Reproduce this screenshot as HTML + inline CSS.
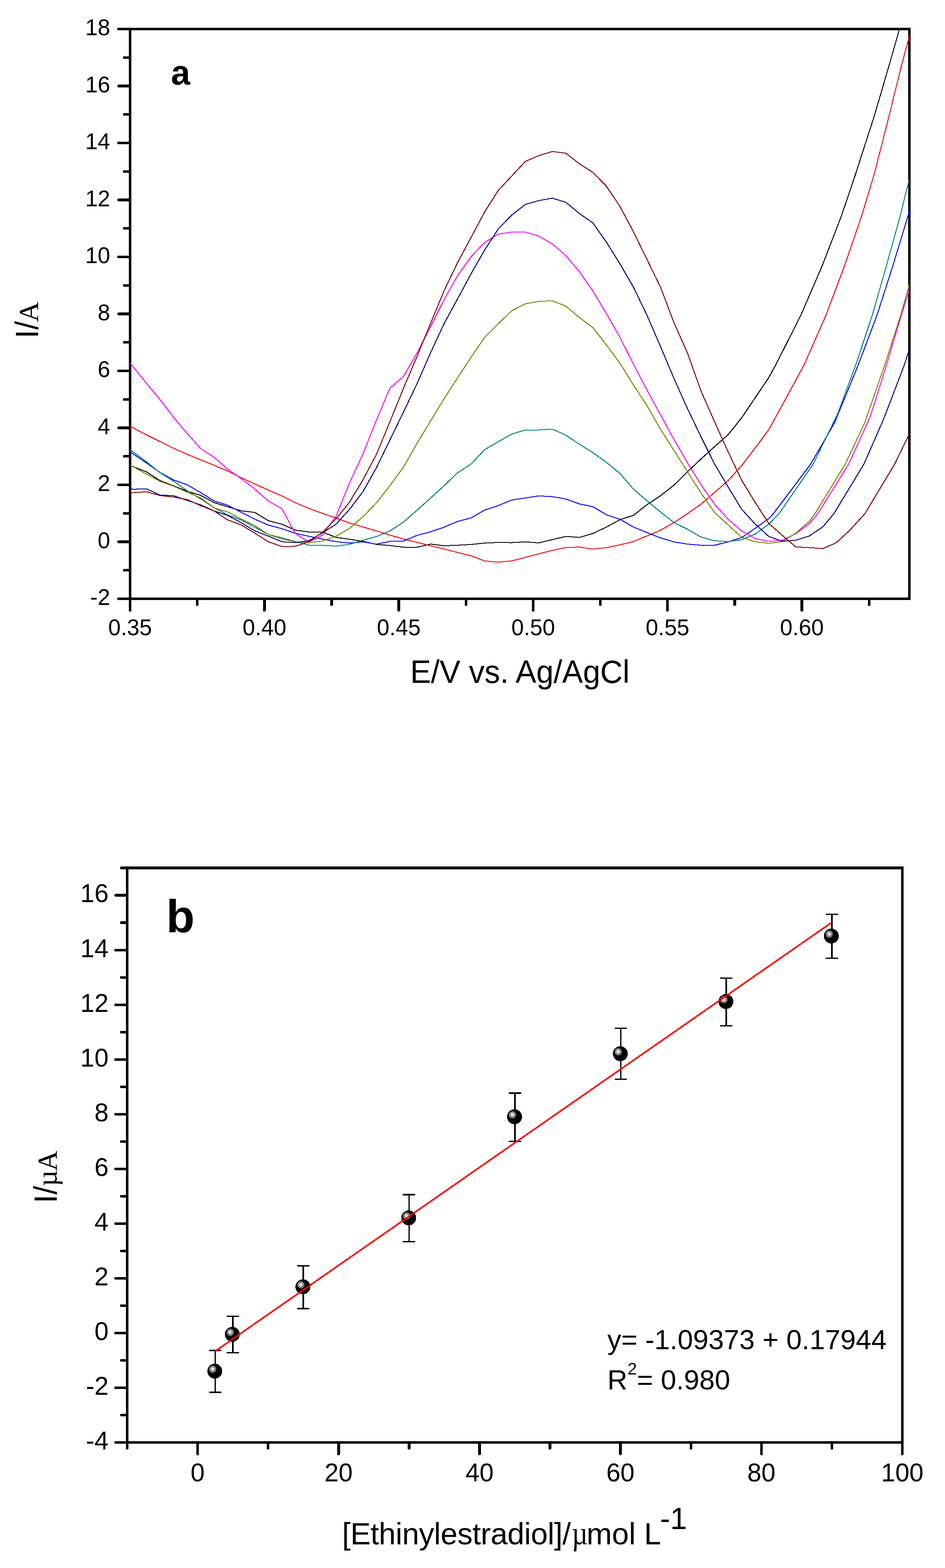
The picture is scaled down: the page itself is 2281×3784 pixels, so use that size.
<!DOCTYPE html>
<html lang="en"><head><meta charset="utf-8"><title>Figure</title>
<style>html,body{margin:0;padding:0;background:#fff}svg{display:block}text{font-family:"Liberation Sans",sans-serif;fill:#000}.t{font-size:54.2px}.tb{font-size:61.3px}.ti{font-size:75px}.s{font-family:"Liberation Serif",serif}.ax{stroke:#000;stroke-width:6.4;fill:none;stroke-linecap:round}.c{fill:none;stroke-width:1;stroke-linejoin:round}</style></head><body>
<svg width="2281" height="3784" viewBox="0 0 2281 3784">
<rect width="2281" height="3784" fill="#fff"/>
<g class="ax" shape-rendering="crispEdges">
<rect x="314" y="70" width="1881" height="1375"/>
<path d="M311,1445h-24.8M311,1376.2h-11.2M311,1307.5h-24.8M311,1238.8h-11.2M311,1170h-24.8M311,1101.2h-11.2M311,1032.5h-24.8M311,963.8h-11.2M311,895h-24.8M311,826.2h-11.2M311,757.5h-24.8M311,688.8h-11.2M311,620h-24.8M311,551.2h-11.2M311,482.5h-24.8M311,413.8h-11.2M311,345h-24.8M311,276.2h-11.2M311,207.5h-24.8M311,138.8h-11.2M311,70h-24.8M314,1448v24.8M476.2,1448v11.2M638.3,1448v24.8M800.5,1448v11.2M962.6,1448v24.8M1124.8,1448v11.2M1286.9,1448v24.8M1449.1,1448v11.2M1611.2,1448v24.8M1773.4,1448v11.2M1935.6,1448v24.8M2097.7,1448v11.2"/>
</g>
<clipPath id="ca"><rect x="314" y="73" width="1881.3" height="1369"/></clipPath>
<g clip-path="url(#ca)" shape-rendering="crispEdges">
<g stroke="#000"><polyline class="c" points="308.5,1120.8 353.4,1138.4 386,1159.4 418.7,1172.1 451.3,1184.8 484,1195 516.6,1212.5 549.2,1222.5 581.9,1232.2 614.5,1236.2 647.2,1256.1 679.8,1264.5 712.4,1278.8 745.1,1283.4 777.7,1283.4 810.4,1296.3 843,1300.9 875.6,1305.8 908.3,1313.3 940.9,1316 973.6,1320 1006.2,1320 1038.8,1312.5 1071.5,1316.6 1104.1,1315.3 1136.8,1313.4 1169.4,1310.1 1202,1308.5 1234.7,1309.1 1267.3,1307.2 1300,1309.6 1332.6,1301.8 1365.2,1294 1397.9,1296.4 1430.5,1287 1463.2,1271.4 1495.8,1253.8 1528.4,1243.1 1561.1,1217.5 1593.7,1195.9 1626.4,1170.3 1659,1138 1691.6,1107 1724.3,1077.4 1756.9,1048.7 1789.6,1007.9 1822.2,959.6 1854.8,911.3 1872.3,879.5 1932.9,759.5 1984.6,639.5 2030.9,519.5 2064.7,419.5 2109.8,279.5 2144.9,159.5 2169.9,72.2 2178.5,39.5"/>
<polyline class="c" transform="translate(1,0)" points="308.5,1120.8 353.4,1138.4 386,1159.4 418.7,1172.1 451.3,1184.8 484,1195 516.6,1212.5 549.2,1222.5 581.9,1232.2 614.5,1236.2 647.2,1256.1 679.8,1264.5 712.4,1278.8 745.1,1283.4 777.7,1283.4 810.4,1296.3 843,1300.9 875.6,1305.8 908.3,1313.3 940.9,1316 973.6,1320 1006.2,1320 1038.8,1312.5 1071.5,1316.6 1104.1,1315.3 1136.8,1313.4 1169.4,1310.1 1202,1308.5 1234.7,1309.1 1267.3,1307.2 1300,1309.6 1332.6,1301.8 1365.2,1294 1397.9,1296.4 1430.5,1287 1463.2,1271.4 1495.8,1253.8 1528.4,1243.1 1561.1,1217.5 1593.7,1195.9 1626.4,1170.3 1659,1138 1691.6,1107 1724.3,1077.4 1756.9,1048.7 1789.6,1007.9 1822.2,959.6 1854.8,911.3 1872.3,879.5 1932.9,759.5 1984.6,639.5 2030.9,519.5 2064.7,419.5 2109.8,279.5 2144.9,159.5 2169.9,72.2 2178.5,39.5"/>
<polyline class="c" transform="translate(0,1)" points="308.5,1120.8 353.4,1138.4 386,1159.4 418.7,1172.1 451.3,1184.8 484,1195 516.6,1212.5 549.2,1222.5 581.9,1232.2 614.5,1236.2 647.2,1256.1 679.8,1264.5 712.4,1278.8 745.1,1283.4 777.7,1283.4 810.4,1296.3 843,1300.9 875.6,1305.8 908.3,1313.3 940.9,1316 973.6,1320 1006.2,1320 1038.8,1312.5 1071.5,1316.6 1104.1,1315.3 1136.8,1313.4 1169.4,1310.1 1202,1308.5 1234.7,1309.1 1267.3,1307.2 1300,1309.6 1332.6,1301.8 1365.2,1294 1397.9,1296.4 1430.5,1287 1463.2,1271.4 1495.8,1253.8 1528.4,1243.1 1561.1,1217.5 1593.7,1195.9 1626.4,1170.3 1659,1138 1691.6,1107 1724.3,1077.4 1756.9,1048.7 1789.6,1007.9 1822.2,959.6 1854.8,911.3 1872.3,879.5 1932.9,759.5 1984.6,639.5 2030.9,519.5 2064.7,419.5 2109.8,279.5 2144.9,159.5 2169.9,72.2 2178.5,39.5"/>
<polyline class="c" transform="translate(1,1)" points="308.5,1120.8 353.4,1138.4 386,1159.4 418.7,1172.1 451.3,1184.8 484,1195 516.6,1212.5 549.2,1222.5 581.9,1232.2 614.5,1236.2 647.2,1256.1 679.8,1264.5 712.4,1278.8 745.1,1283.4 777.7,1283.4 810.4,1296.3 843,1300.9 875.6,1305.8 908.3,1313.3 940.9,1316 973.6,1320 1006.2,1320 1038.8,1312.5 1071.5,1316.6 1104.1,1315.3 1136.8,1313.4 1169.4,1310.1 1202,1308.5 1234.7,1309.1 1267.3,1307.2 1300,1309.6 1332.6,1301.8 1365.2,1294 1397.9,1296.4 1430.5,1287 1463.2,1271.4 1495.8,1253.8 1528.4,1243.1 1561.1,1217.5 1593.7,1195.9 1626.4,1170.3 1659,1138 1691.6,1107 1724.3,1077.4 1756.9,1048.7 1789.6,1007.9 1822.2,959.6 1854.8,911.3 1872.3,879.5 1932.9,759.5 1984.6,639.5 2030.9,519.5 2064.7,419.5 2109.8,279.5 2144.9,159.5 2169.9,72.2 2178.5,39.5"/>
</g>
<g stroke="#f00"><polyline class="c" points="308.5,1025.4 353.4,1049 386,1065.2 418.7,1081.3 451.3,1095.9 484,1109.3 516.6,1122.3 549.2,1136.3 581.9,1152.4 614.5,1167.5 647.2,1182.1 679.8,1196.3 712.4,1212.8 745.1,1226.3 777.7,1238.4 810.4,1249.7 843,1261.3 875.6,1271.3 908.3,1280.7 940.9,1290.9 973.6,1300.4 1006.2,1308.5 1038.8,1316.5 1071.5,1324.4 1104.1,1332.8 1136.8,1340.8 1169.4,1353.2 1202,1356.2 1234.7,1353 1267.3,1344.9 1300,1336 1332.6,1327.9 1365.2,1320.9 1397.9,1319.6 1430.5,1324.7 1463.2,1321.2 1495.8,1314.4 1528.4,1306.4 1561.1,1292.9 1593.7,1279.4 1626.4,1260.6 1659,1239 1691.6,1216.1 1724.3,1187.9 1756.9,1159.6 1789.6,1123.2 1822.2,1080.9 1854.8,1037.2 1864.7,1019.5 1940.7,879.5 1993.5,759.5 2038.5,639.5 2079.7,519.5 2109.8,419.5 2145.4,279.5 2175,159.5 2195.2,84.1 2200.2,65.4"/>
<polyline class="c" transform="translate(1,0)" points="308.5,1025.4 353.4,1049 386,1065.2 418.7,1081.3 451.3,1095.9 484,1109.3 516.6,1122.3 549.2,1136.3 581.9,1152.4 614.5,1167.5 647.2,1182.1 679.8,1196.3 712.4,1212.8 745.1,1226.3 777.7,1238.4 810.4,1249.7 843,1261.3 875.6,1271.3 908.3,1280.7 940.9,1290.9 973.6,1300.4 1006.2,1308.5 1038.8,1316.5 1071.5,1324.4 1104.1,1332.8 1136.8,1340.8 1169.4,1353.2 1202,1356.2 1234.7,1353 1267.3,1344.9 1300,1336 1332.6,1327.9 1365.2,1320.9 1397.9,1319.6 1430.5,1324.7 1463.2,1321.2 1495.8,1314.4 1528.4,1306.4 1561.1,1292.9 1593.7,1279.4 1626.4,1260.6 1659,1239 1691.6,1216.1 1724.3,1187.9 1756.9,1159.6 1789.6,1123.2 1822.2,1080.9 1854.8,1037.2 1864.7,1019.5 1940.7,879.5 1993.5,759.5 2038.5,639.5 2079.7,519.5 2109.8,419.5 2145.4,279.5 2175,159.5 2195.2,84.1 2200.2,65.4"/>
<polyline class="c" transform="translate(0,1)" points="308.5,1025.4 353.4,1049 386,1065.2 418.7,1081.3 451.3,1095.9 484,1109.3 516.6,1122.3 549.2,1136.3 581.9,1152.4 614.5,1167.5 647.2,1182.1 679.8,1196.3 712.4,1212.8 745.1,1226.3 777.7,1238.4 810.4,1249.7 843,1261.3 875.6,1271.3 908.3,1280.7 940.9,1290.9 973.6,1300.4 1006.2,1308.5 1038.8,1316.5 1071.5,1324.4 1104.1,1332.8 1136.8,1340.8 1169.4,1353.2 1202,1356.2 1234.7,1353 1267.3,1344.9 1300,1336 1332.6,1327.9 1365.2,1320.9 1397.9,1319.6 1430.5,1324.7 1463.2,1321.2 1495.8,1314.4 1528.4,1306.4 1561.1,1292.9 1593.7,1279.4 1626.4,1260.6 1659,1239 1691.6,1216.1 1724.3,1187.9 1756.9,1159.6 1789.6,1123.2 1822.2,1080.9 1854.8,1037.2 1864.7,1019.5 1940.7,879.5 1993.5,759.5 2038.5,639.5 2079.7,519.5 2109.8,419.5 2145.4,279.5 2175,159.5 2195.2,84.1 2200.2,65.4"/>
<polyline class="c" transform="translate(1,1)" points="308.5,1025.4 353.4,1049 386,1065.2 418.7,1081.3 451.3,1095.9 484,1109.3 516.6,1122.3 549.2,1136.3 581.9,1152.4 614.5,1167.5 647.2,1182.1 679.8,1196.3 712.4,1212.8 745.1,1226.3 777.7,1238.4 810.4,1249.7 843,1261.3 875.6,1271.3 908.3,1280.7 940.9,1290.9 973.6,1300.4 1006.2,1308.5 1038.8,1316.5 1071.5,1324.4 1104.1,1332.8 1136.8,1340.8 1169.4,1353.2 1202,1356.2 1234.7,1353 1267.3,1344.9 1300,1336 1332.6,1327.9 1365.2,1320.9 1397.9,1319.6 1430.5,1324.7 1463.2,1321.2 1495.8,1314.4 1528.4,1306.4 1561.1,1292.9 1593.7,1279.4 1626.4,1260.6 1659,1239 1691.6,1216.1 1724.3,1187.9 1756.9,1159.6 1789.6,1123.2 1822.2,1080.9 1854.8,1037.2 1864.7,1019.5 1940.7,879.5 1993.5,759.5 2038.5,639.5 2079.7,519.5 2109.8,419.5 2145.4,279.5 2175,159.5 2195.2,84.1 2200.2,65.4"/>
</g>
<g stroke="#00f"><polyline class="c" points="308.5,1086.5 353.4,1116.9 386,1139.8 418.7,1157.8 451.3,1169.4 484,1188.3 516.6,1208.5 549.2,1218.7 581.9,1235.9 614.5,1252.4 647.2,1266.6 679.8,1275.3 712.4,1286.4 745.1,1293.6 777.7,1300.4 810.4,1306.6 843,1310.1 875.6,1307.1 908.3,1312.8 940.9,1306 973.6,1305.2 1006.2,1291.5 1038.8,1282.9 1071.5,1271.7 1104.1,1257.9 1136.8,1249.3 1169.4,1230.4 1202,1219.6 1234.7,1206.2 1267.3,1201.3 1300,1196.3 1332.6,1198.1 1365.2,1203.5 1397.9,1215.6 1430.5,1222.3 1463.2,1241.7 1495.8,1252.5 1528.4,1271.4 1561.1,1284.8 1593.7,1297.5 1626.4,1307.2 1659,1312.6 1691.6,1315.3 1724.3,1315.3 1756.9,1307.2 1789.6,1296.9 1822.2,1274.6 1854.8,1251.4 1866.1,1239.5 1956.3,1119.5 2014.2,1019.5 2022.3,999.5 2071.3,879.5 2116.6,759.5 2155.1,639.5 2191.5,519.5 2195.1,503 2200.1,480.1"/>
<polyline class="c" transform="translate(1,0)" points="308.5,1086.5 353.4,1116.9 386,1139.8 418.7,1157.8 451.3,1169.4 484,1188.3 516.6,1208.5 549.2,1218.7 581.9,1235.9 614.5,1252.4 647.2,1266.6 679.8,1275.3 712.4,1286.4 745.1,1293.6 777.7,1300.4 810.4,1306.6 843,1310.1 875.6,1307.1 908.3,1312.8 940.9,1306 973.6,1305.2 1006.2,1291.5 1038.8,1282.9 1071.5,1271.7 1104.1,1257.9 1136.8,1249.3 1169.4,1230.4 1202,1219.6 1234.7,1206.2 1267.3,1201.3 1300,1196.3 1332.6,1198.1 1365.2,1203.5 1397.9,1215.6 1430.5,1222.3 1463.2,1241.7 1495.8,1252.5 1528.4,1271.4 1561.1,1284.8 1593.7,1297.5 1626.4,1307.2 1659,1312.6 1691.6,1315.3 1724.3,1315.3 1756.9,1307.2 1789.6,1296.9 1822.2,1274.6 1854.8,1251.4 1866.1,1239.5 1956.3,1119.5 2014.2,1019.5 2022.3,999.5 2071.3,879.5 2116.6,759.5 2155.1,639.5 2191.5,519.5 2195.1,503 2200.1,480.1"/>
<polyline class="c" transform="translate(0,1)" points="308.5,1086.5 353.4,1116.9 386,1139.8 418.7,1157.8 451.3,1169.4 484,1188.3 516.6,1208.5 549.2,1218.7 581.9,1235.9 614.5,1252.4 647.2,1266.6 679.8,1275.3 712.4,1286.4 745.1,1293.6 777.7,1300.4 810.4,1306.6 843,1310.1 875.6,1307.1 908.3,1312.8 940.9,1306 973.6,1305.2 1006.2,1291.5 1038.8,1282.9 1071.5,1271.7 1104.1,1257.9 1136.8,1249.3 1169.4,1230.4 1202,1219.6 1234.7,1206.2 1267.3,1201.3 1300,1196.3 1332.6,1198.1 1365.2,1203.5 1397.9,1215.6 1430.5,1222.3 1463.2,1241.7 1495.8,1252.5 1528.4,1271.4 1561.1,1284.8 1593.7,1297.5 1626.4,1307.2 1659,1312.6 1691.6,1315.3 1724.3,1315.3 1756.9,1307.2 1789.6,1296.9 1822.2,1274.6 1854.8,1251.4 1866.1,1239.5 1956.3,1119.5 2014.2,1019.5 2022.3,999.5 2071.3,879.5 2116.6,759.5 2155.1,639.5 2191.5,519.5 2195.1,503 2200.1,480.1"/>
<polyline class="c" transform="translate(1,1)" points="308.5,1086.5 353.4,1116.9 386,1139.8 418.7,1157.8 451.3,1169.4 484,1188.3 516.6,1208.5 549.2,1218.7 581.9,1235.9 614.5,1252.4 647.2,1266.6 679.8,1275.3 712.4,1286.4 745.1,1293.6 777.7,1300.4 810.4,1306.6 843,1310.1 875.6,1307.1 908.3,1312.8 940.9,1306 973.6,1305.2 1006.2,1291.5 1038.8,1282.9 1071.5,1271.7 1104.1,1257.9 1136.8,1249.3 1169.4,1230.4 1202,1219.6 1234.7,1206.2 1267.3,1201.3 1300,1196.3 1332.6,1198.1 1365.2,1203.5 1397.9,1215.6 1430.5,1222.3 1463.2,1241.7 1495.8,1252.5 1528.4,1271.4 1561.1,1284.8 1593.7,1297.5 1626.4,1307.2 1659,1312.6 1691.6,1315.3 1724.3,1315.3 1756.9,1307.2 1789.6,1296.9 1822.2,1274.6 1854.8,1251.4 1866.1,1239.5 1956.3,1119.5 2014.2,1019.5 2022.3,999.5 2071.3,879.5 2116.6,759.5 2155.1,639.5 2191.5,519.5 2195.1,503 2200.1,480.1"/>
</g>
<g stroke="#008080"><polyline class="c" points="308.5,1080.9 353.4,1114.2 386,1140.3 418.7,1160.8 451.3,1183.7 484,1203.6 516.6,1224.9 549.2,1242.1 581.9,1254.5 614.5,1271.8 647.2,1289.3 679.8,1297.3 712.4,1306.6 745.1,1315.2 777.7,1315.7 810.4,1317.3 843,1313.3 875.6,1303.1 908.3,1294.4 940.9,1280.7 973.6,1259.2 1006.2,1230.9 1038.8,1201.3 1071.5,1171.8 1104.1,1140.2 1136.8,1119.4 1169.4,1084.6 1202,1065.6 1234.7,1047.2 1267.3,1037 1300,1037 1332.6,1035.1 1365.2,1049.4 1397.9,1071.5 1430.5,1091.7 1463.2,1115.1 1495.8,1142.1 1528.4,1179.8 1561.1,1208.1 1593.7,1235 1626.4,1260.6 1659,1276.7 1691.6,1295.6 1724.3,1304.5 1756.9,1306.4 1789.6,1302.3 1822.2,1288.3 1854.8,1264.8 1879.5,1239.5 1962.5,1119.5 2011,1019.5 2020.9,999.5 2065.4,879.5 2105.3,759.5 2139.5,639.5 2172.6,519.5 2195.1,428.2 2200.1,407.9"/>
<polyline class="c" transform="translate(1,0)" points="308.5,1080.9 353.4,1114.2 386,1140.3 418.7,1160.8 451.3,1183.7 484,1203.6 516.6,1224.9 549.2,1242.1 581.9,1254.5 614.5,1271.8 647.2,1289.3 679.8,1297.3 712.4,1306.6 745.1,1315.2 777.7,1315.7 810.4,1317.3 843,1313.3 875.6,1303.1 908.3,1294.4 940.9,1280.7 973.6,1259.2 1006.2,1230.9 1038.8,1201.3 1071.5,1171.8 1104.1,1140.2 1136.8,1119.4 1169.4,1084.6 1202,1065.6 1234.7,1047.2 1267.3,1037 1300,1037 1332.6,1035.1 1365.2,1049.4 1397.9,1071.5 1430.5,1091.7 1463.2,1115.1 1495.8,1142.1 1528.4,1179.8 1561.1,1208.1 1593.7,1235 1626.4,1260.6 1659,1276.7 1691.6,1295.6 1724.3,1304.5 1756.9,1306.4 1789.6,1302.3 1822.2,1288.3 1854.8,1264.8 1879.5,1239.5 1962.5,1119.5 2011,1019.5 2020.9,999.5 2065.4,879.5 2105.3,759.5 2139.5,639.5 2172.6,519.5 2195.1,428.2 2200.1,407.9"/>
<polyline class="c" transform="translate(0,1)" points="308.5,1080.9 353.4,1114.2 386,1140.3 418.7,1160.8 451.3,1183.7 484,1203.6 516.6,1224.9 549.2,1242.1 581.9,1254.5 614.5,1271.8 647.2,1289.3 679.8,1297.3 712.4,1306.6 745.1,1315.2 777.7,1315.7 810.4,1317.3 843,1313.3 875.6,1303.1 908.3,1294.4 940.9,1280.7 973.6,1259.2 1006.2,1230.9 1038.8,1201.3 1071.5,1171.8 1104.1,1140.2 1136.8,1119.4 1169.4,1084.6 1202,1065.6 1234.7,1047.2 1267.3,1037 1300,1037 1332.6,1035.1 1365.2,1049.4 1397.9,1071.5 1430.5,1091.7 1463.2,1115.1 1495.8,1142.1 1528.4,1179.8 1561.1,1208.1 1593.7,1235 1626.4,1260.6 1659,1276.7 1691.6,1295.6 1724.3,1304.5 1756.9,1306.4 1789.6,1302.3 1822.2,1288.3 1854.8,1264.8 1879.5,1239.5 1962.5,1119.5 2011,1019.5 2020.9,999.5 2065.4,879.5 2105.3,759.5 2139.5,639.5 2172.6,519.5 2195.1,428.2 2200.1,407.9"/>
<polyline class="c" transform="translate(1,1)" points="308.5,1080.9 353.4,1114.2 386,1140.3 418.7,1160.8 451.3,1183.7 484,1203.6 516.6,1224.9 549.2,1242.1 581.9,1254.5 614.5,1271.8 647.2,1289.3 679.8,1297.3 712.4,1306.6 745.1,1315.2 777.7,1315.7 810.4,1317.3 843,1313.3 875.6,1303.1 908.3,1294.4 940.9,1280.7 973.6,1259.2 1006.2,1230.9 1038.8,1201.3 1071.5,1171.8 1104.1,1140.2 1136.8,1119.4 1169.4,1084.6 1202,1065.6 1234.7,1047.2 1267.3,1037 1300,1037 1332.6,1035.1 1365.2,1049.4 1397.9,1071.5 1430.5,1091.7 1463.2,1115.1 1495.8,1142.1 1528.4,1179.8 1561.1,1208.1 1593.7,1235 1626.4,1260.6 1659,1276.7 1691.6,1295.6 1724.3,1304.5 1756.9,1306.4 1789.6,1302.3 1822.2,1288.3 1854.8,1264.8 1879.5,1239.5 1962.5,1119.5 2011,1019.5 2020.9,999.5 2065.4,879.5 2105.3,759.5 2139.5,639.5 2172.6,519.5 2195.1,428.2 2200.1,407.9"/>
</g>
<g stroke="#f0f"><polyline class="c" points="308.5,869.8 353.4,924.9 386,963.9 418.7,1006.7 451.3,1045.5 484,1081.9 516.6,1103.4 549.2,1131.7 581.9,1154.6 614.5,1179.4 647.2,1208.5 679.8,1226.8 712.4,1286.9 745.1,1307.6 777.7,1290.9 810.4,1245.7 843,1165.2 875.6,1095.1 908.3,1012.8 940.9,936.1 973.6,907.8 1006.2,851.2 1038.8,787.9 1071.5,722.7 1104.1,664.7 1136.8,618.9 1169.4,584.6 1202,564.4 1234.7,559.6 1267.3,559.6 1300,569 1332.6,587.9 1365.2,616.4 1397.9,654.7 1430.5,701.8 1463.2,756.1 1495.8,813.4 1528.4,878 1561.1,940.5 1593.7,1000.3 1626.4,1059.9 1659,1116.5 1691.6,1169 1724.3,1216.1 1756.9,1252.5 1789.6,1280.8 1822.2,1299.1 1854.8,1306 1887.5,1303.3 1920.1,1287.7 1952.8,1263.5 1973.3,1239.5 2047.9,1119.5 2093.7,1019.5 2101.8,999.5 2139.5,879.5 2175.3,759.5 2195.1,696.5 2200.1,680.6"/>
<polyline class="c" transform="translate(1,0)" points="308.5,869.8 353.4,924.9 386,963.9 418.7,1006.7 451.3,1045.5 484,1081.9 516.6,1103.4 549.2,1131.7 581.9,1154.6 614.5,1179.4 647.2,1208.5 679.8,1226.8 712.4,1286.9 745.1,1307.6 777.7,1290.9 810.4,1245.7 843,1165.2 875.6,1095.1 908.3,1012.8 940.9,936.1 973.6,907.8 1006.2,851.2 1038.8,787.9 1071.5,722.7 1104.1,664.7 1136.8,618.9 1169.4,584.6 1202,564.4 1234.7,559.6 1267.3,559.6 1300,569 1332.6,587.9 1365.2,616.4 1397.9,654.7 1430.5,701.8 1463.2,756.1 1495.8,813.4 1528.4,878 1561.1,940.5 1593.7,1000.3 1626.4,1059.9 1659,1116.5 1691.6,1169 1724.3,1216.1 1756.9,1252.5 1789.6,1280.8 1822.2,1299.1 1854.8,1306 1887.5,1303.3 1920.1,1287.7 1952.8,1263.5 1973.3,1239.5 2047.9,1119.5 2093.7,1019.5 2101.8,999.5 2139.5,879.5 2175.3,759.5 2195.1,696.5 2200.1,680.6"/>
<polyline class="c" transform="translate(0,1)" points="308.5,869.8 353.4,924.9 386,963.9 418.7,1006.7 451.3,1045.5 484,1081.9 516.6,1103.4 549.2,1131.7 581.9,1154.6 614.5,1179.4 647.2,1208.5 679.8,1226.8 712.4,1286.9 745.1,1307.6 777.7,1290.9 810.4,1245.7 843,1165.2 875.6,1095.1 908.3,1012.8 940.9,936.1 973.6,907.8 1006.2,851.2 1038.8,787.9 1071.5,722.7 1104.1,664.7 1136.8,618.9 1169.4,584.6 1202,564.4 1234.7,559.6 1267.3,559.6 1300,569 1332.6,587.9 1365.2,616.4 1397.9,654.7 1430.5,701.8 1463.2,756.1 1495.8,813.4 1528.4,878 1561.1,940.5 1593.7,1000.3 1626.4,1059.9 1659,1116.5 1691.6,1169 1724.3,1216.1 1756.9,1252.5 1789.6,1280.8 1822.2,1299.1 1854.8,1306 1887.5,1303.3 1920.1,1287.7 1952.8,1263.5 1973.3,1239.5 2047.9,1119.5 2093.7,1019.5 2101.8,999.5 2139.5,879.5 2175.3,759.5 2195.1,696.5 2200.1,680.6"/>
<polyline class="c" transform="translate(1,1)" points="308.5,869.8 353.4,924.9 386,963.9 418.7,1006.7 451.3,1045.5 484,1081.9 516.6,1103.4 549.2,1131.7 581.9,1154.6 614.5,1179.4 647.2,1208.5 679.8,1226.8 712.4,1286.9 745.1,1307.6 777.7,1290.9 810.4,1245.7 843,1165.2 875.6,1095.1 908.3,1012.8 940.9,936.1 973.6,907.8 1006.2,851.2 1038.8,787.9 1071.5,722.7 1104.1,664.7 1136.8,618.9 1169.4,584.6 1202,564.4 1234.7,559.6 1267.3,559.6 1300,569 1332.6,587.9 1365.2,616.4 1397.9,654.7 1430.5,701.8 1463.2,756.1 1495.8,813.4 1528.4,878 1561.1,940.5 1593.7,1000.3 1626.4,1059.9 1659,1116.5 1691.6,1169 1724.3,1216.1 1756.9,1252.5 1789.6,1280.8 1822.2,1299.1 1854.8,1306 1887.5,1303.3 1920.1,1287.7 1952.8,1263.5 1973.3,1239.5 2047.9,1119.5 2093.7,1019.5 2101.8,999.5 2139.5,879.5 2175.3,759.5 2195.1,696.5 2200.1,680.6"/>
</g>
<g stroke="#808000"><polyline class="c" points="308.5,1118.9 353.4,1143.8 386,1161.3 418.7,1172.9 451.3,1187.4 484,1200.9 516.6,1225.2 549.2,1234.9 581.9,1252.1 614.5,1267.7 647.2,1289.3 679.8,1300 712.4,1307.1 745.1,1309 777.7,1305.2 810.4,1293.6 843,1274.8 875.6,1246.5 908.3,1212.8 940.9,1171.1 973.6,1126.6 1006.2,1069.4 1038.8,1015.5 1071.5,961.7 1104.1,911.2 1136.8,861.4 1169.4,813.5 1202,781.3 1234.7,749.5 1267.3,732.8 1300,726.6 1332.6,725.5 1365.2,738.2 1397.9,765.6 1430.5,789.9 1463.2,831.9 1495.8,875.9 1528.4,928.4 1561.1,978.2 1593.7,1035.2 1626.4,1086.8 1659,1138 1691.6,1189.2 1724.3,1236.3 1756.9,1266 1789.6,1296.1 1822.2,1306.9 1854.8,1310.6 1887.5,1306.8 1920.1,1286.4 1952.8,1258.1 1966.5,1239.5 2039.8,1119.5 2086.9,1019.5 2093.7,999.5 2135.4,879.5 2173.7,759.5 2195.1,684.2 2200.1,666.6"/>
<polyline class="c" transform="translate(1,0)" points="308.5,1118.9 353.4,1143.8 386,1161.3 418.7,1172.9 451.3,1187.4 484,1200.9 516.6,1225.2 549.2,1234.9 581.9,1252.1 614.5,1267.7 647.2,1289.3 679.8,1300 712.4,1307.1 745.1,1309 777.7,1305.2 810.4,1293.6 843,1274.8 875.6,1246.5 908.3,1212.8 940.9,1171.1 973.6,1126.6 1006.2,1069.4 1038.8,1015.5 1071.5,961.7 1104.1,911.2 1136.8,861.4 1169.4,813.5 1202,781.3 1234.7,749.5 1267.3,732.8 1300,726.6 1332.6,725.5 1365.2,738.2 1397.9,765.6 1430.5,789.9 1463.2,831.9 1495.8,875.9 1528.4,928.4 1561.1,978.2 1593.7,1035.2 1626.4,1086.8 1659,1138 1691.6,1189.2 1724.3,1236.3 1756.9,1266 1789.6,1296.1 1822.2,1306.9 1854.8,1310.6 1887.5,1306.8 1920.1,1286.4 1952.8,1258.1 1966.5,1239.5 2039.8,1119.5 2086.9,1019.5 2093.7,999.5 2135.4,879.5 2173.7,759.5 2195.1,684.2 2200.1,666.6"/>
<polyline class="c" transform="translate(0,1)" points="308.5,1118.9 353.4,1143.8 386,1161.3 418.7,1172.9 451.3,1187.4 484,1200.9 516.6,1225.2 549.2,1234.9 581.9,1252.1 614.5,1267.7 647.2,1289.3 679.8,1300 712.4,1307.1 745.1,1309 777.7,1305.2 810.4,1293.6 843,1274.8 875.6,1246.5 908.3,1212.8 940.9,1171.1 973.6,1126.6 1006.2,1069.4 1038.8,1015.5 1071.5,961.7 1104.1,911.2 1136.8,861.4 1169.4,813.5 1202,781.3 1234.7,749.5 1267.3,732.8 1300,726.6 1332.6,725.5 1365.2,738.2 1397.9,765.6 1430.5,789.9 1463.2,831.9 1495.8,875.9 1528.4,928.4 1561.1,978.2 1593.7,1035.2 1626.4,1086.8 1659,1138 1691.6,1189.2 1724.3,1236.3 1756.9,1266 1789.6,1296.1 1822.2,1306.9 1854.8,1310.6 1887.5,1306.8 1920.1,1286.4 1952.8,1258.1 1966.5,1239.5 2039.8,1119.5 2086.9,1019.5 2093.7,999.5 2135.4,879.5 2173.7,759.5 2195.1,684.2 2200.1,666.6"/>
<polyline class="c" transform="translate(1,1)" points="308.5,1118.9 353.4,1143.8 386,1161.3 418.7,1172.9 451.3,1187.4 484,1200.9 516.6,1225.2 549.2,1234.9 581.9,1252.1 614.5,1267.7 647.2,1289.3 679.8,1300 712.4,1307.1 745.1,1309 777.7,1305.2 810.4,1293.6 843,1274.8 875.6,1246.5 908.3,1212.8 940.9,1171.1 973.6,1126.6 1006.2,1069.4 1038.8,1015.5 1071.5,961.7 1104.1,911.2 1136.8,861.4 1169.4,813.5 1202,781.3 1234.7,749.5 1267.3,732.8 1300,726.6 1332.6,725.5 1365.2,738.2 1397.9,765.6 1430.5,789.9 1463.2,831.9 1495.8,875.9 1528.4,928.4 1561.1,978.2 1593.7,1035.2 1626.4,1086.8 1659,1138 1691.6,1189.2 1724.3,1236.3 1756.9,1266 1789.6,1296.1 1822.2,1306.9 1854.8,1310.6 1887.5,1306.8 1920.1,1286.4 1952.8,1258.1 1966.5,1239.5 2039.8,1119.5 2086.9,1019.5 2093.7,999.5 2135.4,879.5 2173.7,759.5 2195.1,684.2 2200.1,666.6"/>
</g>
<g stroke="#000080"><polyline class="c" points="308.5,1177 320.8,1180.2 353.4,1179.4 386,1194.2 418.7,1195.8 451.3,1207.1 484,1217.9 516.6,1232.7 549.2,1243.5 581.9,1261 614.5,1280.6 647.2,1293.3 679.8,1306.8 712.4,1309 745.1,1304.4 777.7,1285.6 810.4,1264.8 843,1229 875.6,1185.9 908.3,1128 940.9,1060.8 973.6,993.4 1006.2,925.3 1038.8,850.7 1071.5,780.4 1104.1,720.6 1136.8,659.6 1169.4,602.8 1202,552.3 1234.7,518.6 1267.3,493 1300,483.6 1332.6,477.7 1365.2,487.6 1397.9,514.6 1430.5,537.5 1463.2,583.7 1495.8,636.1 1528.4,692.2 1561.1,760 1593.7,835.5 1626.4,913 1659,985.8 1691.6,1053.7 1724.3,1119.2 1756.9,1174.4 1789.6,1228.3 1822.2,1264 1854.8,1293.9 1887.5,1305.8 1920.1,1303.3 1952.8,1293.1 1985.4,1271 2012.1,1239.5 2084.8,1119.5 2128.7,1019.5 2136.8,999.5 2182.6,879.5 2195,840.3 2200,824.5"/>
<polyline class="c" transform="translate(1,0)" points="308.5,1177 320.8,1180.2 353.4,1179.4 386,1194.2 418.7,1195.8 451.3,1207.1 484,1217.9 516.6,1232.7 549.2,1243.5 581.9,1261 614.5,1280.6 647.2,1293.3 679.8,1306.8 712.4,1309 745.1,1304.4 777.7,1285.6 810.4,1264.8 843,1229 875.6,1185.9 908.3,1128 940.9,1060.8 973.6,993.4 1006.2,925.3 1038.8,850.7 1071.5,780.4 1104.1,720.6 1136.8,659.6 1169.4,602.8 1202,552.3 1234.7,518.6 1267.3,493 1300,483.6 1332.6,477.7 1365.2,487.6 1397.9,514.6 1430.5,537.5 1463.2,583.7 1495.8,636.1 1528.4,692.2 1561.1,760 1593.7,835.5 1626.4,913 1659,985.8 1691.6,1053.7 1724.3,1119.2 1756.9,1174.4 1789.6,1228.3 1822.2,1264 1854.8,1293.9 1887.5,1305.8 1920.1,1303.3 1952.8,1293.1 1985.4,1271 2012.1,1239.5 2084.8,1119.5 2128.7,1019.5 2136.8,999.5 2182.6,879.5 2195,840.3 2200,824.5"/>
<polyline class="c" transform="translate(0,1)" points="308.5,1177 320.8,1180.2 353.4,1179.4 386,1194.2 418.7,1195.8 451.3,1207.1 484,1217.9 516.6,1232.7 549.2,1243.5 581.9,1261 614.5,1280.6 647.2,1293.3 679.8,1306.8 712.4,1309 745.1,1304.4 777.7,1285.6 810.4,1264.8 843,1229 875.6,1185.9 908.3,1128 940.9,1060.8 973.6,993.4 1006.2,925.3 1038.8,850.7 1071.5,780.4 1104.1,720.6 1136.8,659.6 1169.4,602.8 1202,552.3 1234.7,518.6 1267.3,493 1300,483.6 1332.6,477.7 1365.2,487.6 1397.9,514.6 1430.5,537.5 1463.2,583.7 1495.8,636.1 1528.4,692.2 1561.1,760 1593.7,835.5 1626.4,913 1659,985.8 1691.6,1053.7 1724.3,1119.2 1756.9,1174.4 1789.6,1228.3 1822.2,1264 1854.8,1293.9 1887.5,1305.8 1920.1,1303.3 1952.8,1293.1 1985.4,1271 2012.1,1239.5 2084.8,1119.5 2128.7,1019.5 2136.8,999.5 2182.6,879.5 2195,840.3 2200,824.5"/>
<polyline class="c" transform="translate(1,1)" points="308.5,1177 320.8,1180.2 353.4,1179.4 386,1194.2 418.7,1195.8 451.3,1207.1 484,1217.9 516.6,1232.7 549.2,1243.5 581.9,1261 614.5,1280.6 647.2,1293.3 679.8,1306.8 712.4,1309 745.1,1304.4 777.7,1285.6 810.4,1264.8 843,1229 875.6,1185.9 908.3,1128 940.9,1060.8 973.6,993.4 1006.2,925.3 1038.8,850.7 1071.5,780.4 1104.1,720.6 1136.8,659.6 1169.4,602.8 1202,552.3 1234.7,518.6 1267.3,493 1300,483.6 1332.6,477.7 1365.2,487.6 1397.9,514.6 1430.5,537.5 1463.2,583.7 1495.8,636.1 1528.4,692.2 1561.1,760 1593.7,835.5 1626.4,913 1659,985.8 1691.6,1053.7 1724.3,1119.2 1756.9,1174.4 1789.6,1228.3 1822.2,1264 1854.8,1293.9 1887.5,1305.8 1920.1,1303.3 1952.8,1293.1 1985.4,1271 2012.1,1239.5 2084.8,1119.5 2128.7,1019.5 2136.8,999.5 2182.6,879.5 2195,840.3 2200,824.5"/>
</g>
<g stroke="#800000"><polyline class="c" points="308.5,1188.3 320.8,1188.3 353.4,1186.4 386,1195.5 418.7,1199 451.3,1205.2 484,1219.8 516.6,1232.7 549.2,1254.2 581.9,1266.4 614.5,1286 647.2,1306.8 679.8,1318.4 712.4,1317.9 745.1,1307.1 777.7,1284.2 810.4,1251.9 843,1211.5 875.6,1157.6 908.3,1095.7 940.9,1016.9 973.6,936.1 1006.2,859.3 1038.8,779.8 1071.5,700.9 1104.1,633.1 1136.8,572.1 1169.4,510.8 1202,459.4 1234.7,424.3 1267.3,389.3 1300,375.1 1332.6,365.1 1365.2,369.1 1397.9,394.7 1430.5,415.5 1463.2,448.8 1495.8,497.4 1528.4,558.6 1561.1,625.4 1593.7,692.2 1626.4,778.4 1659,851.6 1691.6,943.2 1724.3,1017.3 1756.9,1089.5 1789.6,1158.2 1822.2,1211.8 1854.8,1262.1 1887.5,1291.2 1920.1,1319.2 1952.8,1321.1 1985.4,1323.5 2018,1309.3 2050.7,1279.1 2086.9,1239.5 2159.1,1119.5 2195,1045.3 2200,1035"/>
<polyline class="c" transform="translate(1,0)" points="308.5,1188.3 320.8,1188.3 353.4,1186.4 386,1195.5 418.7,1199 451.3,1205.2 484,1219.8 516.6,1232.7 549.2,1254.2 581.9,1266.4 614.5,1286 647.2,1306.8 679.8,1318.4 712.4,1317.9 745.1,1307.1 777.7,1284.2 810.4,1251.9 843,1211.5 875.6,1157.6 908.3,1095.7 940.9,1016.9 973.6,936.1 1006.2,859.3 1038.8,779.8 1071.5,700.9 1104.1,633.1 1136.8,572.1 1169.4,510.8 1202,459.4 1234.7,424.3 1267.3,389.3 1300,375.1 1332.6,365.1 1365.2,369.1 1397.9,394.7 1430.5,415.5 1463.2,448.8 1495.8,497.4 1528.4,558.6 1561.1,625.4 1593.7,692.2 1626.4,778.4 1659,851.6 1691.6,943.2 1724.3,1017.3 1756.9,1089.5 1789.6,1158.2 1822.2,1211.8 1854.8,1262.1 1887.5,1291.2 1920.1,1319.2 1952.8,1321.1 1985.4,1323.5 2018,1309.3 2050.7,1279.1 2086.9,1239.5 2159.1,1119.5 2195,1045.3 2200,1035"/>
<polyline class="c" transform="translate(0,1)" points="308.5,1188.3 320.8,1188.3 353.4,1186.4 386,1195.5 418.7,1199 451.3,1205.2 484,1219.8 516.6,1232.7 549.2,1254.2 581.9,1266.4 614.5,1286 647.2,1306.8 679.8,1318.4 712.4,1317.9 745.1,1307.1 777.7,1284.2 810.4,1251.9 843,1211.5 875.6,1157.6 908.3,1095.7 940.9,1016.9 973.6,936.1 1006.2,859.3 1038.8,779.8 1071.5,700.9 1104.1,633.1 1136.8,572.1 1169.4,510.8 1202,459.4 1234.7,424.3 1267.3,389.3 1300,375.1 1332.6,365.1 1365.2,369.1 1397.9,394.7 1430.5,415.5 1463.2,448.8 1495.8,497.4 1528.4,558.6 1561.1,625.4 1593.7,692.2 1626.4,778.4 1659,851.6 1691.6,943.2 1724.3,1017.3 1756.9,1089.5 1789.6,1158.2 1822.2,1211.8 1854.8,1262.1 1887.5,1291.2 1920.1,1319.2 1952.8,1321.1 1985.4,1323.5 2018,1309.3 2050.7,1279.1 2086.9,1239.5 2159.1,1119.5 2195,1045.3 2200,1035"/>
<polyline class="c" transform="translate(1,1)" points="308.5,1188.3 320.8,1188.3 353.4,1186.4 386,1195.5 418.7,1199 451.3,1205.2 484,1219.8 516.6,1232.7 549.2,1254.2 581.9,1266.4 614.5,1286 647.2,1306.8 679.8,1318.4 712.4,1317.9 745.1,1307.1 777.7,1284.2 810.4,1251.9 843,1211.5 875.6,1157.6 908.3,1095.7 940.9,1016.9 973.6,936.1 1006.2,859.3 1038.8,779.8 1071.5,700.9 1104.1,633.1 1136.8,572.1 1169.4,510.8 1202,459.4 1234.7,424.3 1267.3,389.3 1300,375.1 1332.6,365.1 1365.2,369.1 1397.9,394.7 1430.5,415.5 1463.2,448.8 1495.8,497.4 1528.4,558.6 1561.1,625.4 1593.7,692.2 1626.4,778.4 1659,851.6 1691.6,943.2 1724.3,1017.3 1756.9,1089.5 1789.6,1158.2 1822.2,1211.8 1854.8,1262.1 1887.5,1291.2 1920.1,1319.2 1952.8,1321.1 1985.4,1323.5 2018,1309.3 2050.7,1279.1 2086.9,1239.5 2159.1,1119.5 2195,1045.3 2200,1035"/>
</g>
</g>
<text class="t" text-anchor="end" transform="translate(266,1460.3) scale(1,1.02)">-2</text>
<text class="t" text-anchor="end" transform="translate(266,1322.8) scale(1,1.02)">0</text>
<text class="t" text-anchor="end" transform="translate(266,1185.3) scale(1,1.02)">2</text>
<text class="t" text-anchor="end" transform="translate(266,1047.8) scale(1,1.02)">4</text>
<text class="t" text-anchor="end" transform="translate(266,910.3) scale(1,1.02)">6</text>
<text class="t" text-anchor="end" transform="translate(266,772.8) scale(1,1.02)">8</text>
<text class="t" text-anchor="end" transform="translate(266,635.3) scale(1,1.02)">10</text>
<text class="t" text-anchor="end" transform="translate(266,497.8) scale(1,1.02)">12</text>
<text class="t" text-anchor="end" transform="translate(266,360.3) scale(1,1.02)">14</text>
<text class="t" text-anchor="end" transform="translate(266,222.8) scale(1,1.02)">16</text>
<text class="t" text-anchor="end" transform="translate(266,85.3) scale(1,1.02)">18</text>
<text class="t" text-anchor="middle" transform="translate(314,1533.2) scale(1,1.02)">0.35</text>
<text class="t" text-anchor="middle" transform="translate(638.3,1533.2) scale(1,1.02)">0.40</text>
<text class="t" text-anchor="middle" transform="translate(962.6,1533.2) scale(1,1.02)">0.45</text>
<text class="t" text-anchor="middle" transform="translate(1286.9,1533.2) scale(1,1.02)">0.50</text>
<text class="t" text-anchor="middle" transform="translate(1611.2,1533.2) scale(1,1.02)">0.55</text>
<text class="t" text-anchor="middle" transform="translate(1935.6,1533.2) scale(1,1.02)">0.60</text>
<text class="ti" text-anchor="middle" transform="translate(1255,1647.6) scale(1,1.03)">E/V vs. Ag/AgCl</text>
<g transform="translate(91.5,816.7) rotate(-90)"><text class="ti" transform="scale(1,1.04)">I/</text><text class="s" x="39.7" style="font-size:67.5px">A</text></g>
<text x="412.8" y="204" style="font-size:83.3px;font-weight:bold">a</text>
<path d="M519.6,3259V3360M561.9,3176.6V3264.4M547.1,3176.6h29.6M547.1,3264.4h29.6M732.1,3054.7V3158M987.2,2883.1V2996.2M972.4,2883.1h29.6M972.4,2996.2h29.6M1243,2638V2754.3M1228.2,2638h29.6M1228.2,2754.3h29.6M1498.3,2481.2V2604.3M1483.5,2481.2h29.6M1483.5,2604.3h29.6M1752.8,2360.4V2475.2M1738,2360.4h29.6M1738,2475.2h29.6M2007.9,2206.4V2312.2M1993.1,2206.4h29.6M1993.1,2312.2h29.6" stroke="#000" stroke-width="3.4" fill="none" shape-rendering="crispEdges"/>
<path d="M506.3,3259h26.6M506.3,3360h26.6M718.8,3054.7h26.6M718.8,3158h26.6" stroke="#000" stroke-width="3.6" stroke-linecap="round" fill="none"/>
<g shape-rendering="crispEdges">
<circle cx="518.4" cy="3308.9" r="18" fill="#000"/><circle cx="513.4" cy="3304.2" r="9" fill="#727272"/><circle cx="513.4" cy="3303.9" r="6" fill="#a6a6a6"/><circle cx="513.2" cy="3303.9" r="2.9" fill="#fafafa"/>
<circle cx="560.8" cy="3220" r="18" fill="#000"/><circle cx="555.8" cy="3215.3" r="9" fill="#727272"/><circle cx="555.8" cy="3215" r="6" fill="#a6a6a6"/><circle cx="555.6" cy="3215" r="2.9" fill="#fafafa"/>
<circle cx="731.2" cy="3105.3" r="18" fill="#000"/><circle cx="726.2" cy="3100.6" r="9" fill="#727272"/><circle cx="726.2" cy="3100.3" r="6" fill="#a6a6a6"/><circle cx="726" cy="3100.3" r="2.9" fill="#fafafa"/>
<circle cx="986.5" cy="2939.1" r="18" fill="#000"/><circle cx="981.5" cy="2934.4" r="9" fill="#727272"/><circle cx="981.5" cy="2934.1" r="6" fill="#a6a6a6"/><circle cx="981.3" cy="2934.1" r="2.9" fill="#fafafa"/>
<circle cx="1241.9" cy="2695.1" r="18" fill="#000"/><circle cx="1236.9" cy="2690.4" r="9" fill="#727272"/><circle cx="1236.9" cy="2690.1" r="6" fill="#a6a6a6"/><circle cx="1236.7" cy="2690.1" r="2.9" fill="#fafafa"/>
<circle cx="1497.3" cy="2542.9" r="18" fill="#000"/><circle cx="1492.3" cy="2538.2" r="9" fill="#727272"/><circle cx="1492.3" cy="2537.9" r="6" fill="#a6a6a6"/><circle cx="1492.1" cy="2537.9" r="2.9" fill="#fafafa"/>
<circle cx="1752.2" cy="2417" r="18" fill="#000"/><circle cx="1747.2" cy="2412.3" r="9" fill="#727272"/><circle cx="1747.2" cy="2412" r="6" fill="#a6a6a6"/><circle cx="1747" cy="2412" r="2.9" fill="#fafafa"/>
<circle cx="2006.7" cy="2258.9" r="18" fill="#000"/><circle cx="2001.7" cy="2254.2" r="9" fill="#727272"/><circle cx="2001.7" cy="2253.9" r="6" fill="#a6a6a6"/><circle cx="2001.5" cy="2253.9" r="2.9" fill="#fafafa"/>
<line x1="519.2" y1="3261" x2="2008" y2="2225.8" stroke="#f00" stroke-width="3.9"/>
</g>
<g class="ax" shape-rendering="crispEdges">
<rect x="307" y="2094.6" width="1871" height="1386.4"/>
<path d="M304,3481h-24.8M304,3415h-11.2M304,3349h-24.8M304,3282.9h-11.2M304,3216.9h-24.8M304,3150.9h-11.2M304,3084.9h-24.8M304,3018.9h-11.2M304,2952.8h-24.8M304,2886.8h-11.2M304,2820.8h-24.8M304,2754.8h-11.2M304,2688.8h-24.8M304,2622.8h-11.2M304,2556.7h-24.8M304,2490.7h-11.2M304,2424.7h-24.8M304,2358.7h-11.2M304,2292.7h-24.8M304,2226.6h-11.2M304,2160.6h-24.8M304,2094.6h-11.2M307,3484v11.2M477.1,3484v24.8M647.2,3484v11.2M817.3,3484v24.8M987.4,3484v11.2M1157.5,3484v24.8M1327.5,3484v11.2M1497.6,3484v24.8M1667.7,3484v11.2M1837.8,3484v24.8M2007.9,3484v11.2M2178,3484v24.8"/>
</g>
<text class="tb" text-anchor="end" transform="translate(262,3497.8) scale(1,1.035)">-4</text>
<text class="tb" text-anchor="end" transform="translate(262,3365.8) scale(1,1.035)">-2</text>
<text class="tb" text-anchor="end" transform="translate(262,3233.7) scale(1,1.035)">0</text>
<text class="tb" text-anchor="end" transform="translate(262,3101.7) scale(1,1.035)">2</text>
<text class="tb" text-anchor="end" transform="translate(262,2969.6) scale(1,1.035)">4</text>
<text class="tb" text-anchor="end" transform="translate(262,2837.6) scale(1,1.035)">6</text>
<text class="tb" text-anchor="end" transform="translate(262,2705.6) scale(1,1.035)">8</text>
<text class="tb" text-anchor="end" transform="translate(262,2573.5) scale(1,1.035)">10</text>
<text class="tb" text-anchor="end" transform="translate(262,2441.5) scale(1,1.035)">12</text>
<text class="tb" text-anchor="end" transform="translate(262,2309.5) scale(1,1.035)">14</text>
<text class="tb" text-anchor="end" transform="translate(262,2177.4) scale(1,1.035)">16</text>
<text class="tb" text-anchor="middle" transform="translate(477.1,3575.4) scale(1,1.035)">0</text>
<text class="tb" text-anchor="middle" transform="translate(817.3,3575.4) scale(1,1.035)">20</text>
<text class="tb" text-anchor="middle" transform="translate(1157.5,3575.4) scale(1,1.035)">40</text>
<text class="tb" text-anchor="middle" transform="translate(1497.6,3575.4) scale(1,1.035)">60</text>
<text class="tb" text-anchor="middle" transform="translate(1837.8,3575.4) scale(1,1.035)">80</text>
<text class="tb" text-anchor="middle" transform="translate(2178,3575.4) scale(1,1.035)">100</text>
<text class="ti" x="825.7" y="3727.3" style="font-size:73.6px;letter-spacing:-0.45px">[Ethinylestradiol]/</text>
<text class="s" transform="translate(1380,3727.3) scale(1,1.2)" style="font-size:67.5px">µ</text>
<text class="ti" x="1415.7" y="3727.3" style="font-size:73.6px">mol L<tspan x="1593" dy="-37">-1</tspan></text>
<g transform="translate(137.4,2903.7) rotate(-90)"><text class="ti" transform="scale(1,1.04)">I/</text><text class="s" x="41" style="font-size:67.5px">µ</text><text class="s" x="78" style="font-size:67.5px">A</text></g>
<text x="401.3" y="2250" style="font-size:112px;font-weight:bold">b</text>
<text x="1466" y="3256.3" style="font-size:67px">y= -1.09373 + 0.17944</text>
<text x="1466" y="3353" style="font-size:67px">R<tspan dy="-36" style="font-size:41px">2</tspan><tspan dy="36">= 0.980</tspan></text>
</svg></body></html>
